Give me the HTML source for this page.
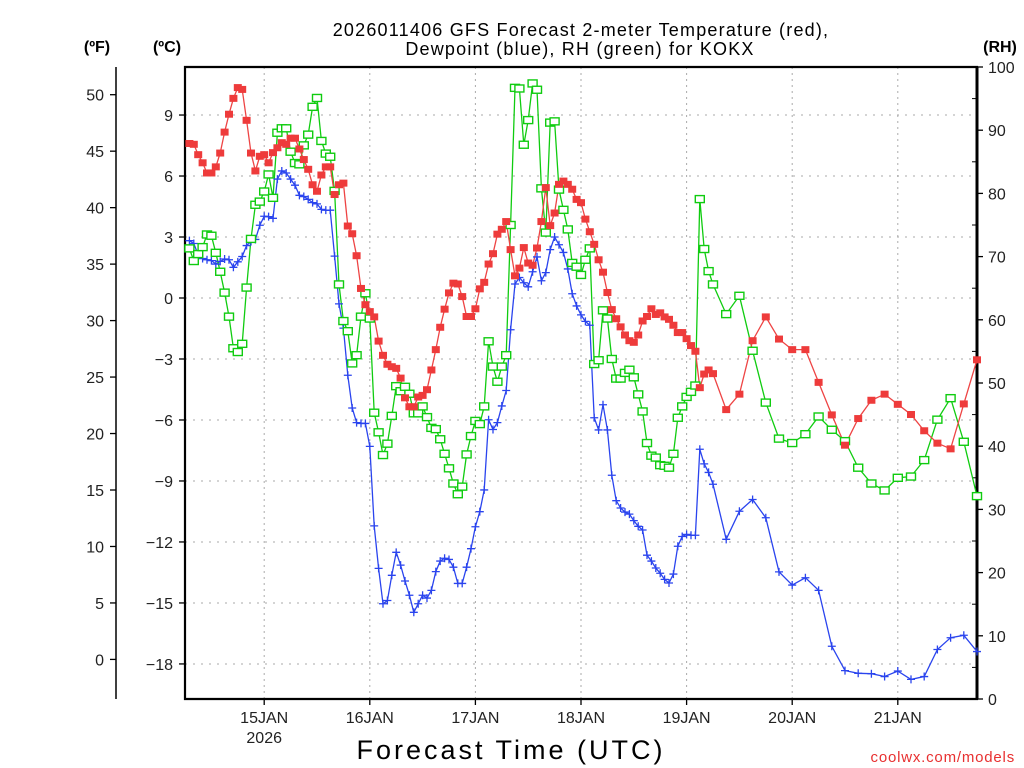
<!DOCTYPE html>
<html><head><meta charset="utf-8"><style>
html,body{margin:0;padding:0;background:#fff;width:1024px;height:768px;overflow:hidden}
svg{display:block;font-family:"Liberation Sans",sans-serif}
</style></head><body>
<svg id="chart" width="1024" height="768" viewBox="0 0 1024 768">
<text x="581" y="36" text-anchor="middle" font-size="18" letter-spacing="1.2">2026011406 GFS Forecast 2-meter Temperature (red),</text>
<text x="580" y="55" text-anchor="middle" font-size="18" letter-spacing="1.2">Dewpoint (blue), RH (green) for KOKX</text>
<text x="97" y="52" text-anchor="middle" font-size="16" font-weight="bold">(ºF)</text>
<text x="167" y="52" text-anchor="middle" font-size="16" font-weight="bold">(ºC)</text>
<text x="1000" y="52" text-anchor="middle" font-size="16" font-weight="bold">(RH)</text>
<text x="511" y="759" text-anchor="middle" font-size="27" letter-spacing="3">Forecast Time (UTC)</text>
<text x="1015" y="762" text-anchor="end" font-size="15" fill="#e83030" letter-spacing="0.8">coolwx.com/models</text>
<g id="grid"></g><g id="axes"></g><g id="series"></g>
</svg>
<script>
const hours=[1,2,3,4,5,6,7,8,9,10,11,12,13,14,15,16,17,18,19,20,21,22,23,24,25,26,27,28,29,30,31,32,33,34,35,36,37,38,39,40,41,42,43,44,45,46,47,48,49,50,51,52,53,54,55,56,57,58,59,60,61,62,63,64,65,66,67,68,69,70,71,72,73,74,75,76,77,78,79,80,81,82,83,84,85,86,87,88,89,90,91,92,93,94,95,96,97,98,99,100,101,102,103,104,105,106,107,108,109,110,111,112,113,114,115,116,117,118,119,120,123,126,129,132,135,138,141,144,147,150,153,156,159,162,165,168,171,174,177,180];
const tempC=[7.60,7.56,7.05,6.65,6.15,6.15,6.45,7.13,8.16,9.04,9.82,10.35,10.26,8.74,7.13,6.25,6.97,7.05,6.65,7.15,7.39,7.64,7.56,7.86,7.86,7.33,6.81,6.33,5.57,5.25,6.05,6.45,6.45,5.09,5.57,5.65,3.54,3.16,2.08,0.47,-0.33,-0.67,-0.93,-2.12,-2.82,-3.26,
-3.38,-3.46,-3.94,-4.91,-5.35,-5.35,-4.87,-4.79,-4.51,-3.54,-2.54,-1.44,-0.55,0.25,0.73,0.69,0.07,-0.91,-0.91,-0.53,0.45,0.77,1.67,2.18,3.14,3.38,3.76,2.38,1.09,1.47,2.48,1.72,1.61,2.46,3.76,5.43,3.56,4.18,5.59,5.75,5.59,5.35,4.85,4.69,
3.88,3.26,2.64,1.88,1.27,0.27,-0.57,-1.02,-1.42,-1.82,-2.10,-2.18,-1.82,-1.13,-0.91,-0.53,-0.81,-0.73,-0.93,-1.05,-1.34,-1.70,-1.70,-2.00,-2.34,-2.62,-4.41,-3.74,-3.54,-3.72,
-5.49,-4.73,-2.10,-0.93,-2.02,-2.54,-2.54,-4.15,-5.75,-7.24,-5.93,-5.03,-4.73,-5.23,-5.73,-6.53,-7.14,-7.42,-5.21,-3.04];
const dewC=[2.82,2.68,2.12,1.94,1.88,1.84,1.67,1.80,1.92,1.88,1.51,1.78,2.04,2.58,2.78,2.88,3.58,4.02,4.00,3.92,5.85,6.25,6.15,5.85,5.55,5.05,4.99,4.85,4.69,4.63,4.36,4.32,4.32,2.06,-0.29,-1.48,-3.80,-5.41,-6.13,-6.17,-6.17,-7.30,-11.21,-13.30,-15.04,-14.88,
-13.64,-12.51,-13.14,-13.92,-14.62,-15.46,-15.04,-14.62,-14.76,-14.38,-13.46,-12.94,-12.80,-12.86,-13.24,-14.04,-14.04,-13.24,-12.33,-11.25,-10.51,-9.44,-5.99,-6.47,-6.13,-5.31,-4.55,-1.56,0.69,1.01,0.75,0.55,1.29,2.02,0.85,1.25,2.38,3.00,2.62,2.24,1.43,0.21,-0.39,-0.83,-1.15,
-1.34,-5.89,-6.49,-5.25,-6.49,-8.72,-9.97,-10.33,-10.53,-10.63,-10.95,-11.23,-11.41,-12.65,-12.94,-13.28,-13.54,-13.84,-14.02,-13.58,-12.21,-11.73,-11.63,-11.67,-11.67,-7.44,-8.16,-8.58,-9.16,
-11.87,-10.49,-9.91,-10.81,-13.47,-14.12,-13.76,-14.38,-17.13,-18.33,-18.46,-18.48,-18.62,-18.35,-18.76,-18.62,-17.29,-16.71,-16.59,-17.39];
const rh=[71.3,69.3,70.4,71.5,73.5,73.3,70.6,67.6,64.3,60.5,55.5,54.9,56.2,65.1,72.8,78.2,78.7,80.3,83.0,79.3,89.6,90.3,90.3,86.6,84.8,84.6,87.6,89.3,93.7,95.1,88.3,86.3,85.8,80.4,65.6,59.8,58.2,53.1,54.4,60.5,64.2,60.2,45.3,42.2,38.6,40.4,
44.8,49.5,48.7,49.4,48.3,45.2,45.2,46.3,44.6,42.9,42.7,41.1,38.8,36.5,34.1,32.4,33.6,38.7,41.6,44.0,43.5,46.3,56.6,52.6,50.2,52.6,54.4,75.0,96.7,96.6,87.7,91.6,97.4,96.4,80.8,73.8,91.2,91.4,80.6,77.4,74.3,69.0,68.4,67.1,69.5,71.3,
53.0,53.6,61.5,60.2,53.8,50.7,50.7,51.6,52.1,50.9,48.2,45.5,40.5,38.5,38.2,37.0,36.9,36.6,38.8,44.5,46.3,47.8,48.6,49.6,79.1,71.2,67.7,65.6,
60.9,63.8,55.1,46.9,41.2,40.5,41.9,44.7,42.6,40.8,36.6,34.1,33.0,35.0,35.2,37.8,44.2,47.6,40.7,32.1];
const dayLabels=["15JAN","16JAN","17JAN","18JAN","19JAN","20JAN","21JAN"];
const dayHours=[18,42,66,90,114,138,162];
const cTicks=[9,6,3,0,-3,-6,-9,-12,-15,-18];
const fTicks=[0,5,10,15,20,25,30,35,40,45,50];
const rhTicks=[0,10,20,30,40,50,60,70,80,90,100];

const NS="http://www.w3.org/2000/svg";
const L=185,R=977,T=67,B=699;
const xH=h=>L+h*(R-L)/180;
const yC=c=>298-20.33*c;
const yF=f=>yC((f-32)*5/9);
const yRH=v=>B-(B-T)*v/100;
function mk(tag,attrs,parent,txt){const e=document.createElementNS(NS,tag);for(const k in attrs)e.setAttribute(k,attrs[k]);if(txt!==undefined)e.textContent=txt;parent.appendChild(e);return e;}
const grid=document.getElementById('grid'),axes=document.getElementById('axes'),ser=document.getElementById('series');

cTicks.forEach(c=>{const y=yC(c);
 const g=mk('line',{x1:L,x2:R,y1:y,y2:y,stroke:'#aaa','stroke-width':1,'stroke-dasharray':'2,6'},grid);
 
 
 mk('line',{x1:179,x2:L,y1:y,y2:y,stroke:'#000','stroke-width':1.3},axes);
 const t=mk('text',{x:173,y:y+6,'text-anchor':'end','font-size':16,fill:'#222'},axes,c<0?'\u2212'+(-c):String(c));
 
 
});
dayHours.forEach((h,i)=>{const x=xH(h);
 const g=mk('line',{x1:x,x2:x,y1:T,y2:B,stroke:'#aaa','stroke-width':1,'stroke-dasharray':'2,4'},grid);
 
 
 mk('line',{x1:x,x2:x,y1:B,y2:B+6,stroke:'#000','stroke-width':1.3},axes);
 const t=mk('text',{x:x,y:723,'text-anchor':'middle','font-size':16,fill:'#222'},axes,dayLabels[i]);
 
 
});
const yr=mk('text',{x:xH(dayHours[0]),y:743,'text-anchor':'middle','font-size':16,fill:'#222'},axes,'2026');


mk('line',{x1:116,x2:116,y1:T,y2:B,stroke:'#000','stroke-width':1.5},axes);
fTicks.forEach(f=>{const y=yF(f);
 mk('line',{x1:110,x2:116,y1:y,y2:y,stroke:'#000','stroke-width':1.3},axes);
 const t=mk('text',{x:104,y:y+6,'text-anchor':'end','font-size':16,fill:'#222'},axes,String(f));
 
 
});
rhTicks.forEach(v=>{const y=yRH(v);
 mk('line',{x1:R,x2:R+6,y1:y,y2:y,stroke:'#000','stroke-width':1.3},axes);
 if(v<100) mk('line',{x1:R-5,x2:R,y1:yRH(v+5),y2:yRH(v+5),stroke:'#000','stroke-width':1}, axes);
 const t=mk('text',{x:988,y:y+6,'text-anchor':'start','font-size':16,fill:'#222'},axes,String(v));
 
 
});
const fr=mk('path',{d:`M${L},${T}H${R}V${B}H${L}Z`,fill:'none',stroke:'#000','stroke-width':2.2},axes);


mk('line',{x1:R,x2:R,y1:T,y2:B,stroke:'#000','stroke-width':3},axes);

function line(vals,yf,color,name){
 const pts=vals.map((v,i)=>xH(hours[i]).toFixed(1)+','+yf(v).toFixed(1)).join(' ');
 const p=mk('polyline',{points:pts,fill:'none',stroke:color,'stroke-width':1.3},ser);
 
 
}
line(dewC,yC,'#2a44ee','dewpoint-line');
line(rh,yRH,'#10cc10','rh-line');
line(tempC,yC,'#ee4444','temperature-line');
dewC.forEach((v,i)=>{const x=xH(hours[i]),y=yC(v);
 const m=mk('path',{d:`M${x-4},${y}H${x+4}M${x},${y-4}V${y+4}`,stroke:'#2a44ee','stroke-width':1.3},ser);
 
 
});
rh.forEach((v,i)=>{const x=xH(hours[i]),y=yRH(v);
 const m=mk('rect',{x:x-4.5,y:y-3.5,width:9,height:7,fill:'#fff',stroke:'#10cc10','stroke-width':1.4},ser);
 
 
});
tempC.forEach((v,i)=>{const x=xH(hours[i]),y=yC(v);
 const m=mk('rect',{x:x-4,y:y-3.5,width:8,height:7,fill:'#ee3b3b'},ser);
 
 
});
</script>
</body></html>
